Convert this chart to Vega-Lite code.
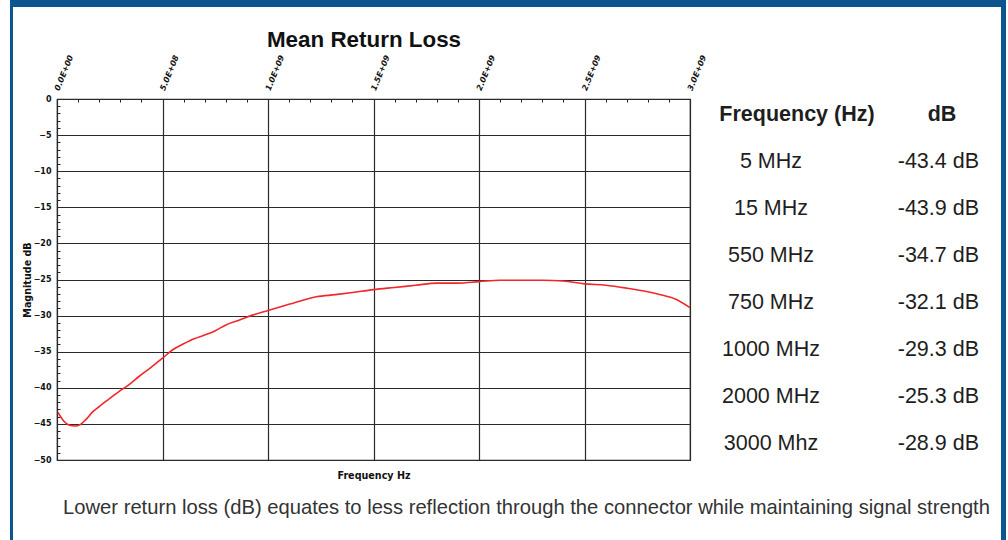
{
  "$schema": "https://vega.github.io/schema/vega-lite/v6.json",
  "padding": 0,
  "background": "white",
  "config": {"view": {"stroke": null}},
  "columns": 6,
  "bounds": "flush",
  "align": "each",
  "spacing": 0,
  "concat": [
    {"width": 10, "height": 7, "data": {"values": []}, "mark": "point"},
    {"width": 3, "height": 7, "view": {"fill": "#0b568f"}, "data": {"values": []}, "mark": "point"},
    {"width": 44, "height": 7, "view": {"fill": "#0b568f"}, "data": {"values": []}, "mark": "point"},
    {"width": 633, "height": 7, "view": {"fill": "#0b568f"}, "data": {"values": []}, "mark": "point"},
    {"width": 311, "height": 7, "view": {"fill": "#0b568f"}, "data": {"values": []}, "mark": "point"},
    {"width": 5, "height": 7, "view": {"fill": "#0b568f"}, "data": {"values": []}, "mark": "point"},

    {"width": 10, "height": 92, "data": {"values": []}, "mark": "point"},
    {"width": 3, "height": 92, "view": {"fill": "#0b568f"}, "data": {"values": []}, "mark": "point"},
    {"width": 44, "height": 92, "data": {"values": []}, "mark": "point"},
    {"width": 633, "height": 92, "data": {"values": []}, "mark": "point"},
    {"width": 311, "height": 92, "data": {"values": []}, "mark": "point"},
    {"width": 5, "height": 92, "view": {"fill": "#0b568f"}, "data": {"values": []}, "mark": "point"},

    {"width": 10, "height": 361, "data": {"values": []}, "mark": "point"},
    {"width": 3, "height": 361, "view": {"fill": "#0b568f"}, "data": {"values": []}, "mark": "point"},
    {"width": 44, "height": 361, "data": {"values": []}, "mark": "point"},
    {
      "width": 633,
      "height": 361,
      "view": {"stroke": "#2a2a2a", "strokeWidth": 1.2},
      "title": {"text": "Mean Return Loss", "font": "Liberation Sans", "fontSize": 22.4, "fontWeight": "bold", "color": "#111111", "anchor": "middle", "frame": "group", "dx": -9.5, "offset": 2},
      "data": {"values": [
        {"frequency": 5000000, "magnitude": -43.4},
        {"frequency": 15000000, "magnitude": -43.9},
        {"frequency": 35000000, "magnitude": -44.7},
        {"frequency": 60000000, "magnitude": -45.2},
        {"frequency": 85000000, "magnitude": -45.3},
        {"frequency": 110000000, "magnitude": -45.1},
        {"frequency": 140000000, "magnitude": -44.3},
        {"frequency": 170000000, "magnitude": -43.3},
        {"frequency": 200000000, "magnitude": -42.6},
        {"frequency": 240000000, "magnitude": -41.7},
        {"frequency": 290000000, "magnitude": -40.6},
        {"frequency": 340000000, "magnitude": -39.6},
        {"frequency": 390000000, "magnitude": -38.4},
        {"frequency": 440000000, "magnitude": -37.3},
        {"frequency": 500000000, "magnitude": -35.9},
        {"frequency": 550000000, "magnitude": -34.7},
        {"frequency": 600000000, "magnitude": -33.9},
        {"frequency": 650000000, "magnitude": -33.2},
        {"frequency": 700000000, "magnitude": -32.7},
        {"frequency": 750000000, "magnitude": -32.1},
        {"frequency": 800000000, "magnitude": -31.3},
        {"frequency": 865000000, "magnitude": -30.6},
        {"frequency": 930000000, "magnitude": -29.9},
        {"frequency": 1000000000, "magnitude": -29.3},
        {"frequency": 1080000000, "magnitude": -28.6},
        {"frequency": 1150000000, "magnitude": -28.0},
        {"frequency": 1230000000, "magnitude": -27.4},
        {"frequency": 1320000000, "magnitude": -27.1},
        {"frequency": 1400000000, "magnitude": -26.8},
        {"frequency": 1500000000, "magnitude": -26.4},
        {"frequency": 1600000000, "magnitude": -26.1},
        {"frequency": 1700000000, "magnitude": -25.8},
        {"frequency": 1800000000, "magnitude": -25.5},
        {"frequency": 1900000000, "magnitude": -25.5},
        {"frequency": 2000000000, "magnitude": -25.3},
        {"frequency": 2100000000, "magnitude": -25.1},
        {"frequency": 2200000000, "magnitude": -25.1},
        {"frequency": 2300000000, "magnitude": -25.1},
        {"frequency": 2400000000, "magnitude": -25.2},
        {"frequency": 2500000000, "magnitude": -25.6},
        {"frequency": 2600000000, "magnitude": -25.8},
        {"frequency": 2700000000, "magnitude": -26.2},
        {"frequency": 2800000000, "magnitude": -26.7},
        {"frequency": 2860000000, "magnitude": -27.1},
        {"frequency": 2930000000, "magnitude": -27.7},
        {"frequency": 3000000000, "magnitude": -28.9}
      ]},
      "layer": [
        {
          "mark": {"type": "line", "color": "#f2262b", "strokeWidth": 1.6, "interpolate": "monotone", "clip": true},
          "encoding": {
            "x": {"field": "frequency", "type": "quantitative",
              "scale": {"domain": [0, 3000000000], "nice": false, "zero": false},
              "axis": {"orient": "top", "values": [0, 500000000, 1000000000, 1500000000, 2000000000, 2500000000, 3000000000],
                "grid": true, "gridColor": "#2a2a2a", "gridOpacity": 1, "gridWidth": 1.2, "domain": false, "ticks": false,
                "labelAngle": -68, "labelFont": "DejaVu Sans", "labelFontSize": 8, "labelFontStyle": "italic", "labelFontWeight": "bold",
                "labelColor": "#111111", "labelPadding": 9, "labelFlush": false, "labelOverlap": false, "labelBound": false,
                "labelExpr": "replace(format(datum.value, '.1e'), 'e+', 'E+0')", "title": null}},
            "y": {"field": "magnitude", "type": "quantitative",
              "scale": {"domain": [-50, 0], "nice": false, "zero": false},
              "axis": {"orient": "left", "values": [-50, -45, -40, -35, -30, -25, -20, -15, -10, -5, 0],
                "grid": true, "gridColor": "#2a2a2a", "gridOpacity": 1, "gridWidth": 1.2, "domain": false, "ticks": false,
                "labelFont": "DejaVu Sans", "labelFontSize": 8, "labelFontWeight": "bold", "labelColor": "#111111", "labelPadding": 6,
                "labelFlush": false, "labelOverlap": false,
                "title": "Magnitude dB", "titleFont": "DejaVu Sans", "titleFontSize": 9.6, "titleFontWeight": "bold", "titleColor": "#111111", "titlePadding": 1}}
          }
        },
        {
          "mark": {"type": "point", "opacity": 0},
          "encoding": {
            "x": {"field": "frequency", "type": "quantitative",
              "scale": {"domain": [0, 3000000000], "nice": false, "zero": false},
              "axis": {"orient": "top", "values": [100000000, 200000000, 300000000, 400000000, 600000000, 700000000, 800000000, 900000000, 1100000000, 1200000000, 1300000000, 1400000000, 1600000000, 1700000000, 1800000000, 1900000000, 2100000000, 2200000000, 2300000000, 2400000000, 2600000000, 2700000000, 2800000000, 2900000000],
                "grid": false, "domain": false, "labels": false, "ticks": true, "tickSize": -3, "tickColor": "#222222", "tickWidth": 1, "title": null}},
            "y": {"field": "magnitude", "type": "quantitative",
              "scale": {"domain": [-50, 0], "nice": false, "zero": false},
              "axis": {"orient": "left", "values": [-49, -48, -47, -46, -44, -43, -42, -41, -39, -38, -37, -36, -34, -33, -32, -31, -29, -28, -27, -26, -24, -23, -22, -21, -19, -18, -17, -16, -14, -13, -12, -11, -9, -8, -7, -6, -4, -3, -2, -1],
                "grid": false, "domain": false, "labels": false, "ticks": true, "tickSize": -3, "tickColor": "#222222", "tickWidth": 1, "title": null}}
          }
        },
        {
          "mark": {"type": "point", "opacity": 0},
          "encoding": {
            "x": {"field": "frequency", "type": "quantitative",
              "scale": {"domain": [0, 3000000000], "nice": false, "zero": false},
              "axis": {"orient": "bottom", "grid": false, "domain": false, "labels": false, "ticks": false,
                "title": "Frequency Hz", "titleFont": "DejaVu Sans", "titleFontSize": 9.6, "titleFontWeight": "bold", "titleColor": "#111111", "titlePadding": 10}},
            "y": {"field": "magnitude", "type": "quantitative", "scale": {"domain": [-50, 0], "nice": false, "zero": false}, "axis": null}
          }
        }
      ],
      "resolve": {"axis": {"x": "independent", "y": "independent"}}
    },
    {
      "width": 311,
      "height": 361,
      "data": {"values": [
        {"row": 0, "frequency": "Frequency (Hz)", "loss": "dB"},
        {"row": 1, "frequency": "5 MHz", "loss": "-43.4 dB"},
        {"row": 2, "frequency": "15 MHz", "loss": "-43.9 dB"},
        {"row": 3, "frequency": "550 MHz", "loss": "-34.7 dB"},
        {"row": 4, "frequency": "750 MHz", "loss": "-32.1 dB"},
        {"row": 5, "frequency": "1000 MHz", "loss": "-29.3 dB"},
        {"row": 6, "frequency": "2000 MHz", "loss": "-25.3 dB"},
        {"row": 7, "frequency": "3000 Mhz", "loss": "-28.9 dB"}
      ]},
      "encoding": {
        "y": {"field": "row", "type": "ordinal", "scale": {"type": "point", "domain": [0, 1, 2, 3, 4, 5, 6, 7], "padding": 0.34}, "axis": null}
      },
      "layer": [
        {
          "transform": [{"filter": "datum.row == 0"}],
          "mark": {"type": "text", "font": "Liberation Sans", "fontSize": 21.5, "fontWeight": "bold", "color": "#1e1e1e", "align": "center", "baseline": "middle", "dx": 26},
          "encoding": {"x": {"datum": "c1", "type": "nominal", "scale": {"type": "point", "domain": ["c1", "c2"], "range": [81, 289], "padding": 0}, "axis": null}, "text": {"field": "frequency"}}
        },
        {
          "transform": [{"filter": "datum.row == 0"}],
          "mark": {"type": "text", "font": "Liberation Sans", "fontSize": 21.5, "fontWeight": "bold", "color": "#1e1e1e", "align": "center", "baseline": "middle", "dx": -37},
          "encoding": {"x": {"datum": "c2", "type": "nominal", "scale": {"type": "point", "domain": ["c1", "c2"], "range": [81, 289], "padding": 0}, "axis": null}, "text": {"field": "loss"}}
        },
        {
          "transform": [{"filter": "datum.row > 0"}],
          "mark": {"type": "text", "font": "Liberation Sans", "fontSize": 21.5, "color": "#1e1e1e", "align": "center", "baseline": "middle"},
          "encoding": {"x": {"datum": "c1", "type": "nominal", "scale": {"type": "point", "domain": ["c1", "c2"], "range": [81, 289], "padding": 0}, "axis": null}, "text": {"field": "frequency"}}
        },
        {
          "transform": [{"filter": "datum.row > 0"}],
          "mark": {"type": "text", "font": "Liberation Sans", "fontSize": 21.5, "color": "#1e1e1e", "align": "right", "baseline": "middle"},
          "encoding": {"x": {"datum": "c2", "type": "nominal", "scale": {"type": "point", "domain": ["c1", "c2"], "range": [81, 289], "padding": 0}, "axis": null}, "text": {"field": "loss"}}
        }
      ]
    },
    {"width": 5, "height": 361, "view": {"fill": "#0b568f"}, "data": {"values": []}, "mark": "point"},

    {"width": 10, "height": 95, "data": {"values": []}, "mark": "point"},
    {"width": 3, "height": 95, "view": {"fill": "#0b568f"}, "data": {"values": []}, "mark": "point"},
    {"width": 44, "height": 95, "data": {"values": []}, "mark": "point"},
    {
      "width": 633,
      "height": 95,
      "data": {"values": [{"caption": "Lower return loss (dB) equates to less reflection through the connector while maintaining signal strength"}]},
      "mark": {"type": "text", "font": "Liberation Sans", "fontSize": 20.2, "color": "#333333", "align": "center", "baseline": "middle", "dx": 153},
      "encoding": {"text": {"field": "caption"}}
    },
    {"width": 311, "height": 95, "data": {"values": []}, "mark": "point"},
    {"width": 5, "height": 95, "view": {"fill": "#0b568f"}, "data": {"values": []}, "mark": "point"}
  ]
}
